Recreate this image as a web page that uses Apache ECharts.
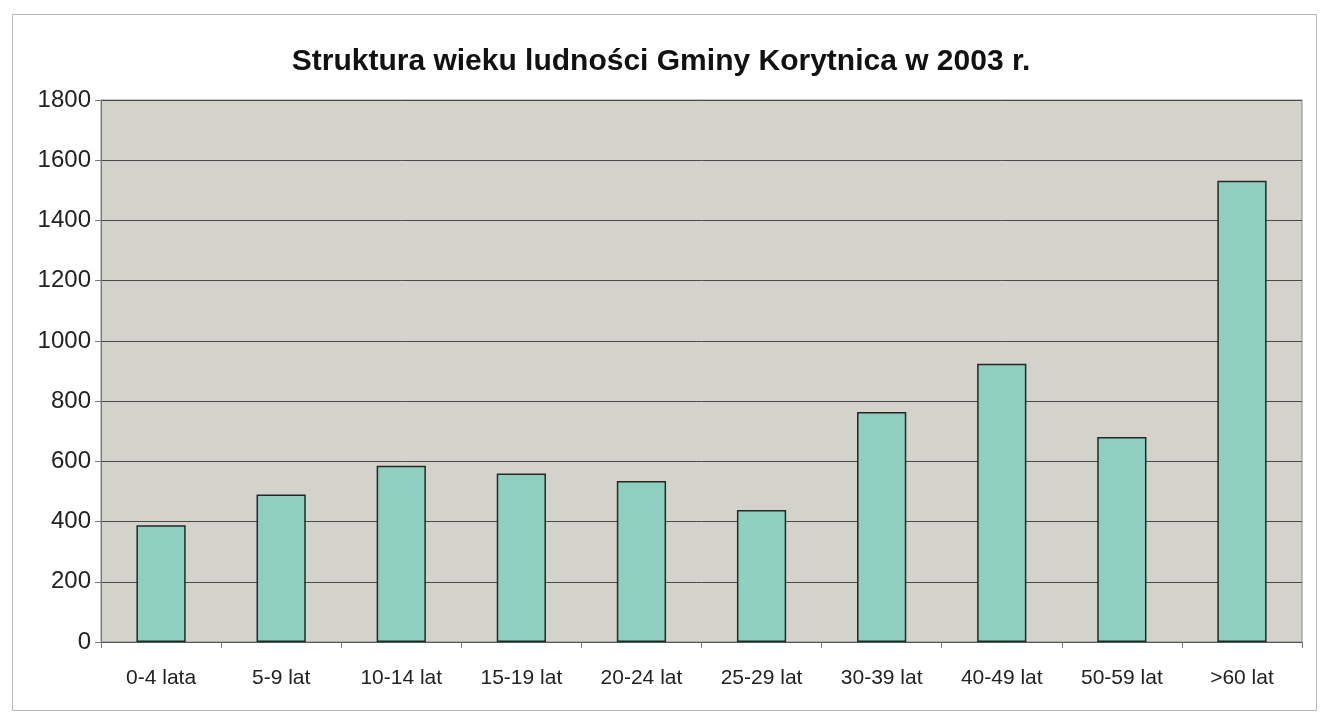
<!DOCTYPE html>
<html>
<head>
<meta charset="utf-8">
<script src="https://cdn.jsdelivr.net/npm/echarts@6/dist/echarts.min.js"></script>
<style>
html,body{margin:0;padding:0;background:#fff;}
#c{width:1322px;height:716px;}
</style>
</head>
<body>
<div id="c"></div>
<script>
const titleText = 'Struktura wieku ludności Gminy Korytnica w 2003 r.';
const categories = ['0-4 lata','5-9 lat','10-14 lat','15-19 lat','20-24 lat','25-29 lat','30-39 lat','40-49 lat','50-59 lat','>60 lat'];
const values = [388, 490, 585, 560, 535, 438, 764, 924, 681, 1532];
const yMin = 0, yMax = 1800, yStep = 200;

const chart = echarts.init(document.getElementById('c'));
chart.setOption({
  backgroundColor: '#ffffff',
  animation: false,
  graphic: [{
    type: 'rect', left: 10, top: 12, shape: {width: 1304, height: 696},
    style: {fill: 'none', stroke: '#b8b8b8', lineWidth: 1}, z: -1
  }],
  title: {
    text: titleText, left: 'center', top: 42,
    textStyle: {fontFamily: 'Liberation Sans, Arial, sans-serif', fontWeight: 'bold', fontSize: 30, color: '#111', letterSpacing: -1}
  },
  grid: {left: 101, right: 20, top: 100, bottom: 74, show: true, backgroundColor: '#d3d3cc', borderColor: '#8a8a8a', borderWidth: 1},
  xAxis: {
    type: 'category', data: categories,
    axisLine: {show: true, lineStyle: {color: '#555', width: 1}},
    axisTick: {show: true, length: 6, lineStyle: {color: '#777'}},
    axisLabel: {fontFamily: 'Liberation Sans, Arial, sans-serif', fontSize: 21, color: '#222', margin: 26}
  },
  yAxis: {
    type: 'value', min: yMin, max: yMax, interval: yStep,
    axisLine: {show: true, lineStyle: {color: '#777', width: 1}},
    axisTick: {show: true, length: 6, lineStyle: {color: '#777'}},
    splitLine: {show: true, lineStyle: {color: '#4a4a4a', width: 1}},
    axisLabel: {fontFamily: 'Liberation Sans, Arial, sans-serif', fontSize: 24, color: '#222', margin: 10, letterSpacing: -0.5, formatter: v => String(v)}
  },
  series: [{
    type: 'bar', data: values, barWidth: '41%',
    itemStyle: {color: '#8ecfbf', borderColor: '#1e2b28', borderWidth: 1.5}
  }]
});
</script>
</body>
</html>
